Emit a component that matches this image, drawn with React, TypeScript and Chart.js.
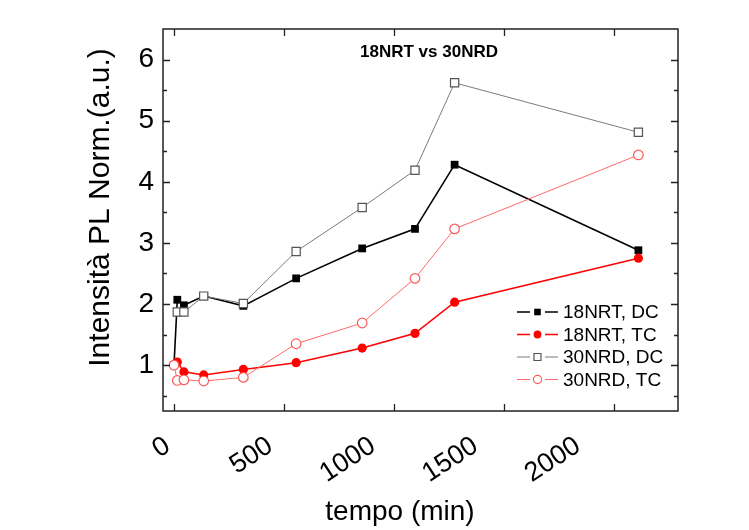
import React, { useEffect, useRef } from 'react';
import { Chart, registerables } from 'chart.js';
Chart.register(...registerables);

const times = [0, 15, 45, 135, 315, 555, 855, 1095, 1275, 2110];
const nrt18DC = [1.0, 2.07, 1.98, 2.13, 1.97, 2.42, 2.91, 3.23, 4.28, 2.88];
const nrt18TC = [null, 1.05, 0.89, 0.84, 0.93, 1.04, 1.28, 1.52, 2.03, 2.75];
const nrd30DC = [null, 1.87, 1.87, 2.13, 2.01, 2.86, 3.58, 4.19, 5.62, 4.81];
const nrd30TC = [1.0, 0.75, 0.76, 0.74, 0.8, 1.35, 1.69, 2.42, 3.23, 4.44];

const xTicks = [0, 500, 1000, 1500, 2000];
const yTicks = [1, 2, 3, 4, 5, 6];
const yMinorTicks = [0.5, 1.5, 2.5, 3.5, 4.5, 5.5];

const seriesLabels = ['18NRT, DC', '18NRT, TC', '30NRD, DC', '30NRD, TC'];
const chartTitle = '18NRT vs 30NRD';
const xTitle = 'tempo (min)';
const yTitle = 'Intensità PL Norm.(a.u.)';

const FONT = '"Liberation Sans", Arial, sans-serif';

function pts(vals: (number | null)[]) {
  const out: { x: number; y: number }[] = [];
  vals.forEach((v, i) => {
    if (v !== null) out.push({ x: times[i], y: v });
  });
  return out;
}

function drawMarker(ctx: CanvasRenderingContext2D, ds: any, x: number, y: number, scale = 1) {
  const r = ds.pointRadius * scale;
  ctx.save();
  ctx.fillStyle = ds.pointBackgroundColor;
  ctx.strokeStyle = ds.pointBorderColor;
  ctx.lineWidth = ds.pointBorderWidth;
  ctx.beginPath();
  if (ds.pointStyle === 'rect') {
    const s = r * Math.SQRT1_2;
    ctx.rect(x - s, y - s, 2 * s, 2 * s);
  } else {
    ctx.arc(x, y, r, 0, Math.PI * 2);
  }
  ctx.fill();
  if (ds.pointBorderWidth > 0) ctx.stroke();
  ctx.restore();
}

// x tick labels in the original are spaced slightly tighter than the ticks
const labelShiftPlugin = {
  id: 'labelShift',
  beforeDraw(chart: any) {
    const xs = chart.scales.x;
    const items = xs.getLabelItems(chart.chartArea);
    const p0 = xs.getPixelForValue(0);
    items.forEach((it: any, i: number) => {
      const base = xs.getPixelForValue(xTicks[i]);
      it.options.translation[0] = base - 15 - 0.068 * (base - p0);
    });
  },
};

const decorPlugin = {
  id: 'decor',
  afterDraw(chart: any) {
    const ctx: CanvasRenderingContext2D = chart.ctx;
    const { left, right, top, bottom } = chart.chartArea;
    const xs = chart.scales.x;
    const ys = chart.scales.y;
    ctx.save();
    // frame
    ctx.strokeStyle = '#222';
    ctx.lineWidth = 1.5;
    ctx.strokeRect(left, top, right - left, bottom - top);
    ctx.lineWidth = 1.3;
    ctx.beginPath();
    xTicks.forEach((v) => {
      const px = Math.round(xs.getPixelForValue(v)) + 0.5;
      ctx.moveTo(px, bottom);
      ctx.lineTo(px, bottom - 7);
      ctx.moveTo(px, top);
      ctx.lineTo(px, top + 7);
    });
    yTicks.forEach((v) => {
      const py = Math.round(ys.getPixelForValue(v)) + 0.5;
      ctx.moveTo(left, py);
      ctx.lineTo(left + 7, py);
      ctx.moveTo(right, py);
      ctx.lineTo(right - 7, py);
    });
    yMinorTicks.forEach((v) => {
      const py = Math.round(ys.getPixelForValue(v)) + 0.5;
      ctx.moveTo(left, py);
      ctx.lineTo(left + 4, py);
      ctx.moveTo(right, py);
      ctx.lineTo(right - 4, py);
    });
    ctx.stroke();

    // title
    ctx.fillStyle = '#000';
    ctx.font = `bold 17px ${FONT}`;
    ctx.textAlign = 'center';
    ctx.textBaseline = 'middle';
    ctx.fillText(chartTitle, 429, 52);

    // axis titles
    ctx.font = `28px ${FONT}`;
    ctx.fillText(xTitle, 400, 512);
    ctx.save();
    ctx.translate(101, 207.5);
    ctx.rotate(-Math.PI / 2);
    ctx.font = `30px ${FONT}`;
    ctx.fillText(yTitle, 0, 0);
    ctx.restore();

    // legend
    const datasets = chart.data.datasets;
    ctx.font = `19px ${FONT}`;
    ctx.textAlign = 'left';
    datasets.forEach((ds: any, i: number) => {
      const y = 312 + i * 22.5;
      ctx.strokeStyle = ds.borderColor;
      ctx.lineWidth = ds.borderWidth;
      ctx.beginPath();
      ctx.moveTo(517, y);
      ctx.lineTo(530, y);
      ctx.moveTo(545, y);
      ctx.lineTo(558, y);
      ctx.stroke();
      drawMarker(ctx, ds, 537.5, y, 0.85);
      ctx.fillStyle = '#000';
      ctx.fillText(seriesLabels[i], 563, y + 1);
    });
    ctx.restore();
  },
};

export default function App() {
  const ref = useRef<HTMLCanvasElement>(null);
  useEffect(() => {
    if (!ref.current) return;
    const chart = new Chart(ref.current, {
      type: 'line',
      data: {
        datasets: [
          {
            label: seriesLabels[0],
            data: pts(nrt18DC),
            order: 4,
            borderColor: '#000000',
            borderWidth: 1.6,
            pointStyle: 'rect',
            pointRadius: 5.5,
            pointBackgroundColor: '#000000',
            pointBorderColor: '#000000',
            pointBorderWidth: 0,
          },
          {
            label: seriesLabels[1],
            data: pts(nrt18TC),
            order: 3,
            borderColor: '#ff0000',
            borderWidth: 1.6,
            pointStyle: 'circle',
            pointRadius: 4.6,
            pointBackgroundColor: '#ff0000',
            pointBorderColor: '#ff0000',
            pointBorderWidth: 0,
          },
          {
            label: seriesLabels[2],
            data: pts(nrd30DC),
            order: 2,
            borderColor: '#7a7a7a',
            borderWidth: 1,
            pointStyle: 'rect',
            pointRadius: 5.8,
            pointBackgroundColor: '#ffffff',
            pointBorderColor: '#555555',
            pointBorderWidth: 1.2,
          },
          {
            label: seriesLabels[3],
            data: pts(nrd30TC),
            order: 1,
            borderColor: '#ff6a6a',
            borderWidth: 1,
            pointStyle: 'circle',
            pointRadius: 4.8,
            pointBackgroundColor: '#ffffff',
            pointBorderColor: '#ff5a5a',
            pointBorderWidth: 1.2,
          },
        ] as any,
      },
      options: {
        animation: false,
        responsive: false,
        devicePixelRatio: 1,
        layout: { padding: { left: 0, top: 29, right: 71, bottom: 0 } },
        plugins: { legend: { display: false }, tooltip: { enabled: false } },
        elements: { line: { tension: 0 } },
        scales: {
          x: {
            type: 'linear',
            min: -50,
            max: 2290,
            grid: { display: false, drawTicks: false },
            border: { display: false },
            afterBuildTicks: (s: any) => {
              s.ticks = xTicks.map((v) => ({ value: v }));
            },
            afterFit: (s: any) => {
              s.height = 119;
            },
            ticks: {
              autoSkip: false,
              minRotation: 33,
              maxRotation: 33,
              padding: 19,
              color: '#000',
              font: { family: FONT, size: 27 },
              callback: (v: any) => String(v),
            },
          },
          y: {
            type: 'linear',
            min: 0.25,
            max: 6.5,
            grid: { display: false, drawTicks: false },
            border: { display: false },
            afterBuildTicks: (s: any) => {
              s.ticks = yTicks.map((v) => ({ value: v }));
            },
            afterFit: (s: any) => {
              s.width = 163;
            },
            ticks: {
              padding: 9,
              color: '#000',
              font: { family: FONT, size: 28 },
              callback: (v: any) => String(v),
            },
          },
        },
      },
      plugins: [labelShiftPlugin, decorPlugin],
    } as any);
    return () => chart.destroy();
  }, []);
  return (
    <div style={{ position: 'fixed', left: 0, top: 0, width: 749, height: 530, background: '#fff' }}>
      <canvas ref={ref} width={749} height={530} />
    </div>
  );
}
